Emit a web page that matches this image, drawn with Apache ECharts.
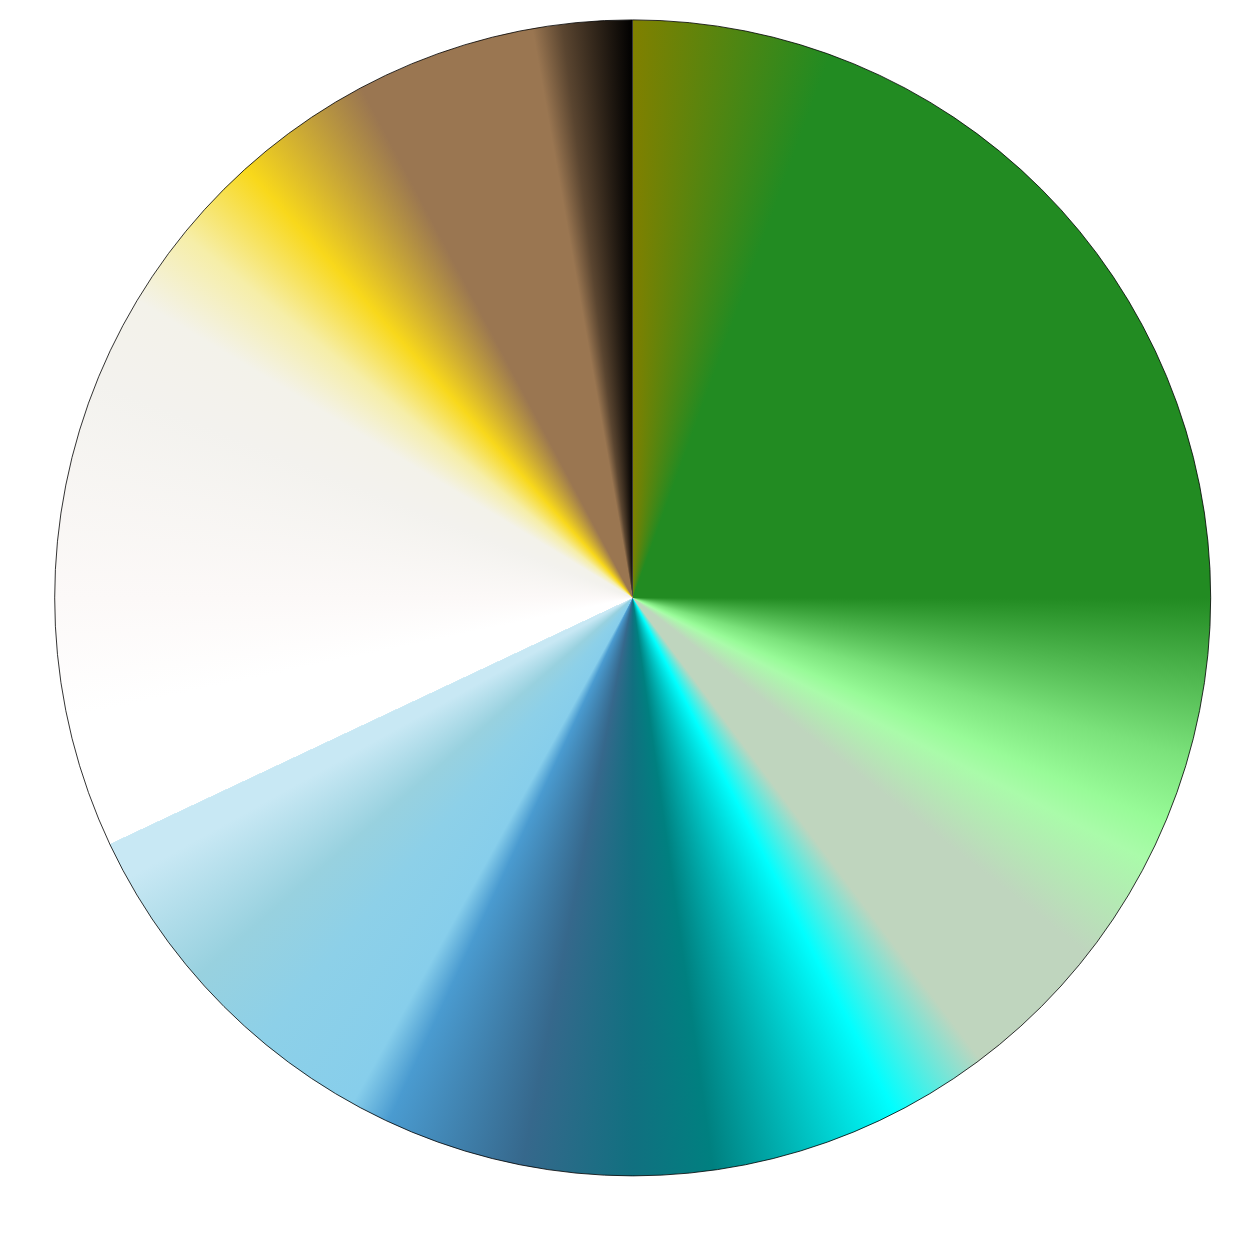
<!DOCTYPE html>
<html>
<head>
<meta charset="utf-8">
<script src="https://cdn.jsdelivr.net/npm/echarts@6/dist/echarts.min.js"></script>
<style>
  html, body { margin: 0; padding: 0; background: #fff; }
  #chart { width: 1243px; height: 1243px; }
</style>
</head>
<body>
<div id="chart"></div>
<script>
// two wedges of the disc (percent of the full turn)
const wedgeNames = ['A', 'B'];
const wedgeValues = [68, 32];

// colour stops of the sweep, degrees clockwise from 12 o'clock
const stopAngles = [0, 20, 90, 106, 113, 117, 128, 143, 153, 172, 180, 191, 205, 209, 220, 229, 241, 244.8, 244.8, 258, 270, 292, 301, 309, 318, 332, 350, 353, 360];
const stopColors = ['#808000', '#228B22', '#228B22', '#7BE27B', '#98FB98', '#AAFBAA', '#BFD5BE', '#BFD5BE', '#00FFFF', '#008080', '#117080', '#36688C', '#4A9BD0', '#87CEEB', '#8DD0E8', '#98D1DF', '#C8E8F4', '#C8E8F4', '#FFFFFF', '#FFFFFF', '#FCF9F8', '#F3F2EE', '#F3F2EA', '#F6EEA8', '#F8D81B', '#9A7651', '#9A7651', '#5A4530', '#000000'];

const dom = document.getElementById('chart');
const W = dom.clientWidth;
const H = dom.clientHeight;
const centerPct = [50.9, 48.1];
const radiusPct = 93;

// sweep texture, used as the pattern fill of the wedges
function sweepCanvas() {
  const c = document.createElement('canvas');
  c.width = W;
  c.height = H;
  const ctx = c.getContext('2d');
  const cx = W * centerPct[0] / 100;
  const cy = H * centerPct[1] / 100;
  const g = ctx.createConicGradient(-Math.PI / 2, cx, cy);
  stopAngles.forEach((a, i) => {
    g.addColorStop(a / 360, stopColors[i]);
  });
  ctx.fillStyle = g;
  ctx.fillRect(0, 0, W, H);
  return c;
}

const myChart = echarts.init(dom);
const fill = { image: sweepCanvas(), repeat: 'no-repeat' };

const option = {
  animation: false,
  backgroundColor: '#ffffff',
  series: [
    {
      type: 'pie',
      center: [centerPct[0] + '%', centerPct[1] + '%'],
      radius: ['0%', radiusPct + '%'],
      startAngle: 90,
      clockwise: true,
      silent: true,
      label: { show: false },
      labelLine: { show: false },
      itemStyle: { color: fill, borderWidth: 0 },
      data: wedgeNames.map((n, i) => ({ name: n, value: wedgeValues[i] })),
    },
    {
      // outline of the disc
      type: 'pie',
      center: [centerPct[0] + '%', centerPct[1] + '%'],
      radius: ['0%', radiusPct + '%'],
      silent: true,
      label: { show: false },
      labelLine: { show: false },
      itemStyle: { color: 'transparent', borderColor: '#000000', borderWidth: 0.8 },
      data: [{ name: 'outline', value: 1 }],
    },
  ],
};
myChart.setOption(option);
</script>
</body>
</html>
